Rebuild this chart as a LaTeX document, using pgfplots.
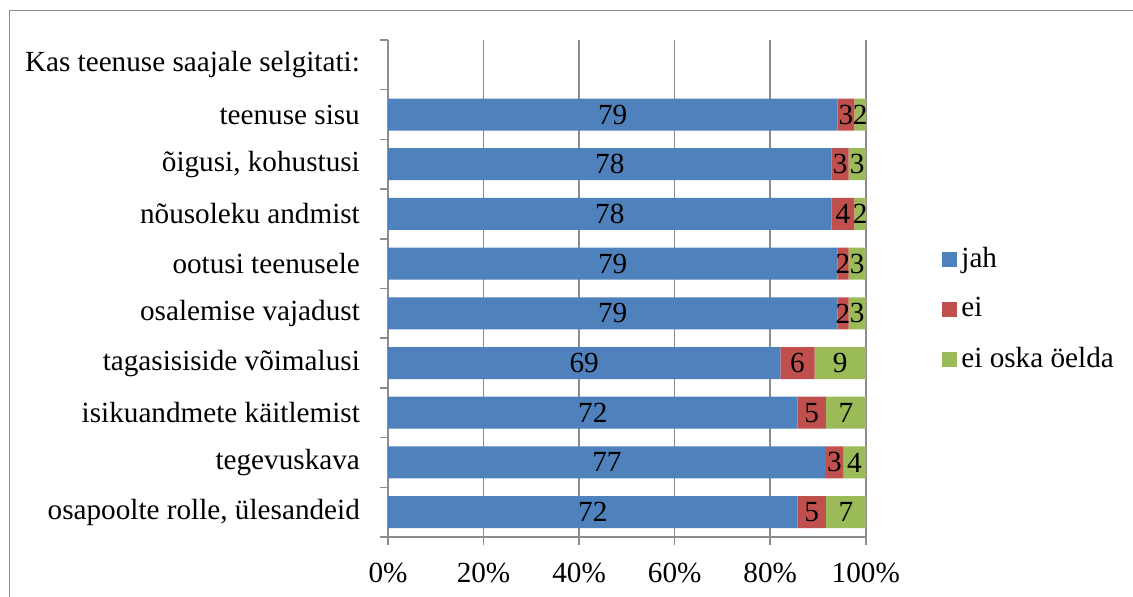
\documentclass[border=0pt]{standalone}
\usepackage{fontspec}
\setmainfont{Liberation Serif}
\usepackage{pgfplots}
\usepackage{pgfplotstable}
\pgfplotsset{compat=1.18}
\definecolor{cjah}{HTML}{4F81BD}
\definecolor{cei}{HTML}{C0504D}
\definecolor{ceos}{HTML}{9BBB59}
\definecolor{gridg}{HTML}{8C8C8C}
\pgfplotstableread[col sep=comma]{
idx,jah,ei,eos
0,72,5,7
1,77,3,4
2,72,5,7
3,69,6,9
4,79,2,3
5,79,2,3
6,78,4,2
7,78,3,3
8,79,3,2
}\data
\begin{document}
\fontsize{14.6}{17}\selectfont
\begin{tikzpicture}
\useasboundingbox (0,0) rectangle (566.5pt,298.5pt);
\draw[gridg, line width=0.75pt] (4.75pt,-2pt) -- (4.75pt,293.25pt) -- (570pt,293.25pt);
\begin{axis}[
 at={(194pt,30pt)}, anchor=south west,
 scale only axis, width=239pt, height=248.5pt,
 xbar stacked, bar width=16pt,
 xmin=0, xmax=100.05, ymin=-0.5, ymax=9.5,
 xtick={0,20,...,100},
 xticklabels={0\%,20\%,40\%,60\%,80\%,100\%},
 ytick={-0.5,0.5,...,9.5}, yticklabels={},
 extra y ticks={0,...,9},
 extra y tick labels={{osapoolte rolle, ülesandeid},tegevuskava,isikuandmete käitlemist,tagasisiside võimalusi,osalemise vajadust,ootusi teenusele,nõusoleku andmist,{õigusi, kohustusi},teenuse sisu,Kas teenuse saajale selgitati:},
 extra y tick style={major tick length=0pt, yticklabel style={xshift=-9pt}},
 tick align=outside, major tick length=4pt,
 xmajorgrids, major grid style={gridg, line width=0.75pt},
 axis x line*=bottom, axis y line*=left,
 axis line style={gridg, line width=0.75pt, -},
 tick style={gridg, line width=0.75pt},
 xticklabel style={yshift=-4pt},
 /pgf/number format/assume math mode=true,
 clip=false,
 nodes near coords, point meta=explicit symbolic,
 every node near coord/.append style={black, inner sep=0pt},
 legend style={at={(1.159,0.458)}, anchor=west, draw=none, fill=none, inner sep=0pt, row sep=9pt},
 legend cell align=left,
 legend image code/.code={\fill[#1] (0pt,-3.75pt) rectangle (7.5pt,3.75pt);},
]
\addplot[fill=cjah, draw=none] table[y=idx, x expr={\thisrow{jah}/(\thisrow{jah}+\thisrow{ei}+\thisrow{eos})*100}, meta=jah] {\data};
\addplot[fill=cei, draw=none] table[y=idx, x expr={\thisrow{ei}/(\thisrow{jah}+\thisrow{ei}+\thisrow{eos})*100}, meta=ei] {\data};
\addplot[fill=ceos, draw=none] table[y=idx, x expr={\thisrow{eos}/(\thisrow{jah}+\thisrow{ei}+\thisrow{eos})*100}, meta=eos] {\data};
\legend{jah,ei,ei oska öelda}
\end{axis}
\end{tikzpicture}
\end{document}
